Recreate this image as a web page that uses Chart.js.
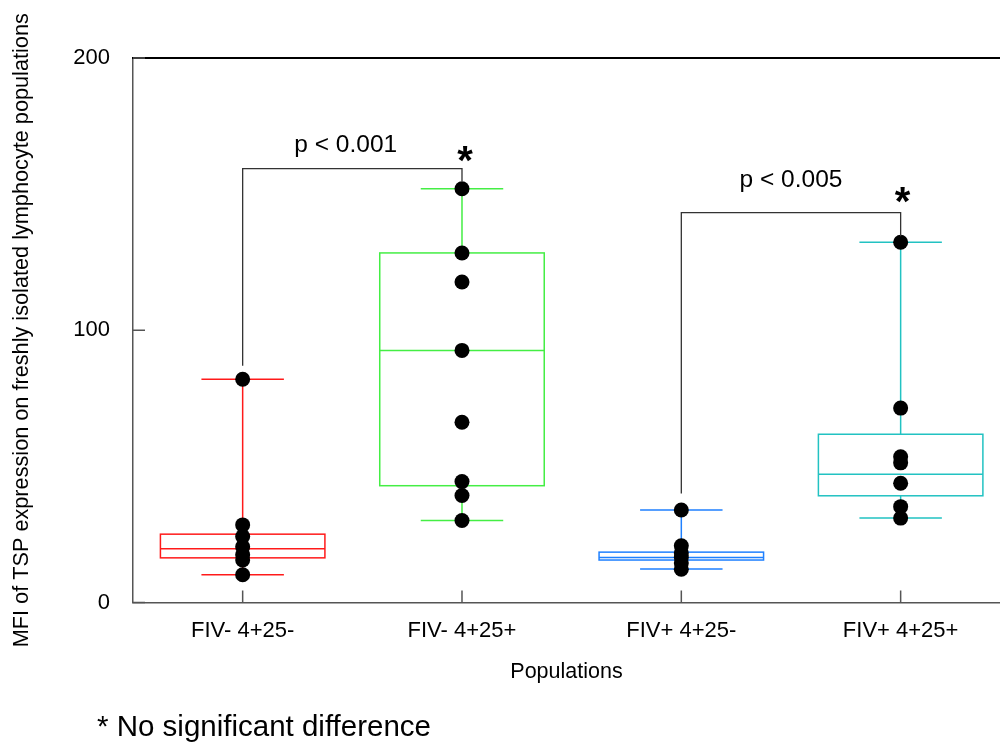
<!DOCTYPE html>
<html>
<head>
<meta charset="utf-8">
<script src="https://cdn.jsdelivr.net/npm/chart.js@4.4.1/dist/chart.umd.min.js"></script>
<style>
  html, body { margin: 0; padding: 0; background: #fff; overflow: hidden; }
  #wrap { width: 1000px; height: 744px; }
</style>
</head>
<body>
<div id="wrap"><canvas id="chart" width="1000" height="744"></canvas></div>
<script>
// groups along the x axis
const categories = ['FIV- 4+25-', 'FIV- 4+25+', 'FIV+ 4+25-', 'FIV+ 4+25+'];
const boxColors = ['#ff1a1a', '#44ee44', '#1f80ff', '#22c2c2'];

// box plot summary per group
const whiskerLow = [10.2, 30.1, 12.3, 31.0];
const q1 = [16.4, 42.9, 15.6, 39.2];
const median = [19.7, 92.6, 16.5, 47.1];
const q3 = [25.1, 128.4, 18.5, 61.8];
const whiskerHigh = [82.0, 152.0, 34.0, 132.3];

// individual measurements per group
const pointsG1 = [82.0, 28.5, 24.2, 20.5, 17.5, 15.6, 10.2];
const pointsG2 = [152.0, 128.4, 117.7, 92.6, 66.2, 44.4, 39.3, 30.1];
const pointsG3 = [34.0, 20.8, 18.2, 16.5, 14.5, 12.2];
const pointsG4 = [132.3, 71.4, 53.5, 51.3, 43.8, 35.2, 31.0];

const yTicks = [0, 100, 200];

// significance brackets between groups
const brackets = [
  { from: 1, to: 2, top: 159.4, leftEnd: 87, rightEnd: 154.7, label: 'p < 0.001', lx: 1.47, ly: 165.5 },
  { from: 3, to: 4, top: 143.2, leftEnd: 40, rightEnd: 134.5, label: 'p < 0.005', lx: 3.5, ly: 152.8 }
];
const starX = [2.014, 4.009];
const starY = [157.3, 142.2];

const allPoints = [pointsG1, pointsG2, pointsG3, pointsG4];
const scatterData = [];
allPoints.forEach((arr, i) => arr.forEach(v => scatterData.push({ x: i + 1, y: v })));

const BOX_HALF = 0.375;
const CAP_HALF = 0.188;
const FONT = '"Liberation Sans", Arial, sans-serif';

// boxes and whiskers under the dots
const boxPlugin = {
  id: 'boxes',
  beforeDatasetsDraw(chart) {
    const { ctx, scales: { x, y } } = chart;
    ctx.save();
    ctx.lineWidth = 1.5;
    categories.forEach((c, i) => {
      const g = i + 1;
      ctx.strokeStyle = boxColors[i];
      const cx = x.getPixelForValue(g);
      const l = x.getPixelForValue(g - BOX_HALF), r = x.getPixelForValue(g + BOX_HALF);
      const cl = x.getPixelForValue(g - CAP_HALF), cr = x.getPixelForValue(g + CAP_HALF);
      const yq1 = y.getPixelForValue(q1[i]), yq3 = y.getPixelForValue(q3[i]);
      const yHi = y.getPixelForValue(whiskerHigh[i]), yLo = y.getPixelForValue(whiskerLow[i]);
      ctx.beginPath();
      ctx.moveTo(cx, yHi); ctx.lineTo(cx, yq3);
      ctx.moveTo(cx, yq1); ctx.lineTo(cx, yLo);
      ctx.moveTo(cl, yHi); ctx.lineTo(cr, yHi);
      ctx.moveTo(cl, yLo); ctx.lineTo(cr, yLo);
      ctx.moveTo(l, y.getPixelForValue(median[i])); ctx.lineTo(r, y.getPixelForValue(median[i]));
      ctx.stroke();
      ctx.strokeRect(l, yq3, r - l, yq1 - yq3);
    });
    ctx.restore();
  },
  afterDraw(chart) {
    const { ctx, chartArea: a, scales: { x, y } } = chart;
    ctx.save();
    // top frame line
    ctx.strokeStyle = '#000';
    ctx.lineWidth = 2;
    ctx.beginPath();
    ctx.moveTo(a.left - 1, a.top); ctx.lineTo(chart.width, a.top);
    ctx.stroke();
    // inward tick marks
    ctx.strokeStyle = '#555';
    ctx.lineWidth = 1.5;
    ctx.beginPath();
    x.ticks.forEach(t => {
      const px = x.getPixelForValue(t.value);
      ctx.moveTo(px, a.bottom); ctx.lineTo(px, a.bottom - 12);
    });
    y.ticks.forEach(t => {
      const py = y.getPixelForValue(t.value);
      ctx.moveTo(a.left, py); ctx.lineTo(a.left + 12, py);
    });
    ctx.stroke();
    // brackets
    ctx.strokeStyle = '#333';
    ctx.lineWidth = 1.3;
    ctx.fillStyle = '#000';
    ctx.font = '24.5px ' + FONT;
    ctx.textAlign = 'center';
    ctx.textBaseline = 'alphabetic';
    brackets.forEach(b => {
      const x1 = x.getPixelForValue(b.from), x2 = x.getPixelForValue(b.to);
      const yt = y.getPixelForValue(b.top);
      ctx.beginPath();
      ctx.moveTo(x1, y.getPixelForValue(b.leftEnd)); ctx.lineTo(x1, yt);
      ctx.lineTo(x2, yt); ctx.lineTo(x2, y.getPixelForValue(b.rightEnd));
      ctx.stroke();
      ctx.fillText(b.label, x.getPixelForValue(b.lx), y.getPixelForValue(b.ly));
    });
    // asterisks
    ctx.font = 'bold 40px ' + FONT;
    starX.forEach((sx, i) => {
      ctx.fillText('*', x.getPixelForValue(sx), y.getPixelForValue(starY[i]));
    });
    // footnote
    ctx.font = '29.5px ' + FONT;
    ctx.textAlign = 'left';
    ctx.fillText('* No significant difference', 97, 736);
    ctx.restore();
  }
};

new Chart(document.getElementById('chart'), {
  type: 'scatter',
  data: {
    datasets: [{
      data: scatterData,
      pointRadius: 7.5,
      pointHoverRadius: 7.5,
      pointBackgroundColor: '#000',
      pointBorderWidth: 0
    }]
  },
  options: {
    responsive: false,
    animation: false,
    layout: { autoPadding: false, padding: { top: 58, right: 0, bottom: 41.5, left: 0 } },
    plugins: { legend: { display: false }, tooltip: { enabled: false } },
    scales: {
      x: {
        type: 'linear',
        min: 0.5,
        max: 4.453,
        grid: { display: false },
        border: { color: '#555', width: 1.5 },
        afterBuildTicks: s => { s.ticks = categories.map((c, i) => ({ value: i + 1 })); },
        afterFit: s => { s.height = 100; s.paddingRight = 0; s.paddingLeft = 0; },
        ticks: {
          padding: 7,
          color: '#000',
          font: { family: FONT, size: 22 },
          callback: v => categories[v - 1]
        },
        title: {
          display: true,
          text: 'Populations',
          color: '#000',
          font: { family: FONT, size: 21.5 },
          padding: { top: 0, bottom: 18 }
        }
      },
      y: {
        min: 0,
        max: 200,
        grid: { display: false },
        border: { color: '#555', width: 1.5 },
        afterBuildTicks: s => { s.ticks = yTicks.map(v => ({ value: v })); },
        afterFit: s => { s.width = 133; },
        ticks: {
          padding: 15,
          color: '#000',
          font: { family: FONT, size: 22 }
        },
        title: {
          display: true,
          text: 'MFI of TSP expression on freshly isolated lymphocyte populations',
          color: '#000',
          font: { family: FONT, size: 21.7 },
          padding: { top: 9, bottom: 0 }
        }
      }
    }
  },
  plugins: [boxPlugin]
});
</script>
</body>
</html>
